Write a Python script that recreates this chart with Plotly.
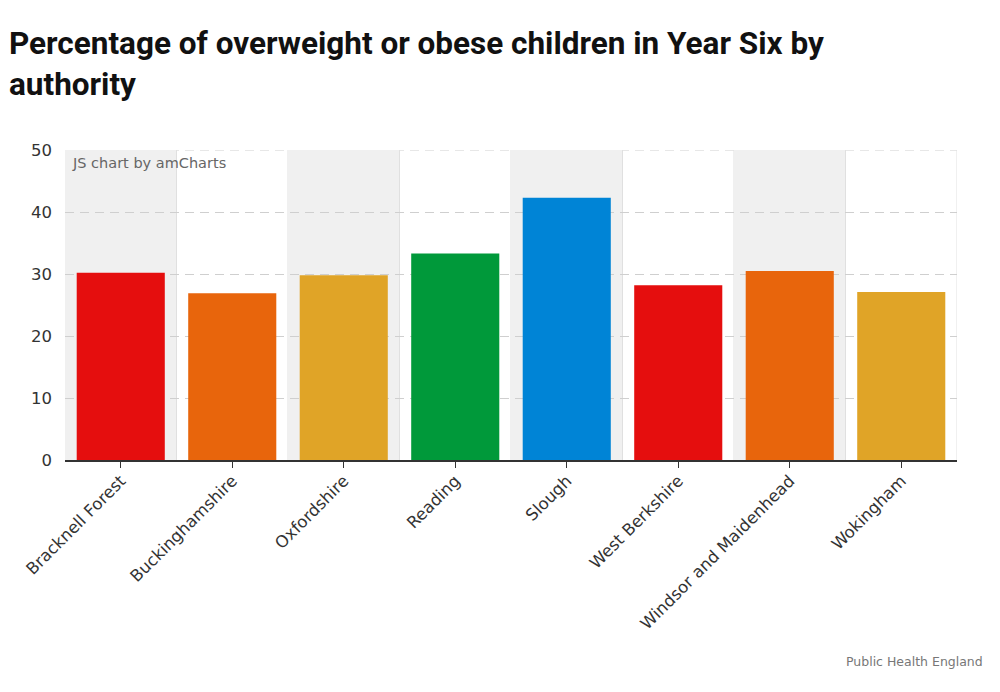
import plotly.graph_objects as go

categories = ["Bracknell Forest", "Buckinghamshire", "Oxfordshire", "Reading",
              "Slough", "West Berkshire", "Windsor and Maidenhead", "Wokingham"]
values = [30.2, 26.9, 29.8, 33.3, 42.3, 28.2, 30.5, 27.1]
colors = ["#e50e0e", "#e8650c", "#e0a427", "#00993a", "#0084d6",
          "#e50e0e", "#e8650c", "#e0a427"]
y_ticks = [0, 10, 20, 30, 40, 50]
title_lines = ["Percentage of overweight or obese children in Year Six by", "authority"]

PLOT_TOP, PLOT_BOTTOM, PLOT_LEFT, PLOT_RIGHT = 150, 460, 65, 957
PH = PLOT_BOTTOM - PLOT_TOP
PW = PLOT_RIGHT - PLOT_LEFT


def py(pix):
    return (PLOT_BOTTOM - pix) / PH


def px(pix):
    return (pix - PLOT_LEFT) / PW


fig = go.Figure()
fig.add_trace(go.Bar(x=categories, y=values, marker=dict(color=colors, line=dict(width=0)),
                     width=0.79, hoverinfo="x+y"))

GRID_DASH = "9px,6px"
shapes = []
for i in range(len(categories)):
    if i % 2 == 0:
        shapes.append(dict(type="rect", xref="x", yref="y", x0=i - 0.5, x1=i + 0.5,
                           y0=0, y1=50, fillcolor="#f0f0f0", line=dict(width=0), layer="below"))
    shapes.append(dict(type="line", xref="x", yref="y", x0=i + 0.5, x1=i + 0.5,
                       y0=0, y1=50, line=dict(color="#e0e0e0", width=1), layer="below"))
shapes.append(dict(type="line", xref="paper", yref="y", x0=0, x1=1, y0=50, y1=50,
                   line=dict(color="#cfcfcf", width=1, dash=GRID_DASH), layer="below"))

fig.update_layout(
    width=1000, height=692,
    margin=dict(l=PLOT_LEFT, r=1000 - PLOT_RIGHT, t=PLOT_TOP, b=692 - PLOT_BOTTOM),
    paper_bgcolor="white", plot_bgcolor="white",
    showlegend=False,
    shapes=shapes,
    font=dict(family="DejaVu Sans", color="#333333"),
    xaxis=dict(type="category", range=[-0.5, len(categories) - 0.5],
               tickangle=-45, tickfont=dict(size=16.5, color="#333333"),
               showline=True, linecolor="#333333", linewidth=1.5,
               ticks="outside", ticklen=6, tickcolor="#333333", ticklabelstandoff=-3,
               showgrid=False, zeroline=False),
    yaxis=dict(range=[0, 50], tickvals=y_ticks, tickfont=dict(size=16.5, color="#333333"),
               showgrid=True, gridcolor="#cfcfcf", griddash=GRID_DASH, gridwidth=1,
               zeroline=False, showline=False, ticks="", ticklabelstandoff=12),
    annotations=[
        dict(text="<b>%s</b>" % title_lines[0], xref="paper", yref="paper",
             x=px(7), y=py(44), xanchor="left", yanchor="middle", showarrow=False,
             font=dict(family="Roboto", size=31.5, color="#111111")),
        dict(text="<b>%s</b>" % title_lines[1], xref="paper", yref="paper",
             x=px(7), y=py(85), xanchor="left", yanchor="middle", showarrow=False,
             font=dict(family="Roboto", size=31.5, color="#111111")),
        dict(text="JS chart by amCharts", xref="paper", yref="paper", x=px(70), y=py(163),
             xanchor="left", yanchor="middle", showarrow=False,
             font=dict(family="DejaVu Sans", size=14.5, color="#666666")),
        dict(text="Public Health England", xref="paper", yref="paper",
             x=px(985), y=py(661), xanchor="right", yanchor="middle",
             showarrow=False, font=dict(family="DejaVu Sans", size=12.5, color="#777777")),
    ],
)

fig.write_html("out.html")
